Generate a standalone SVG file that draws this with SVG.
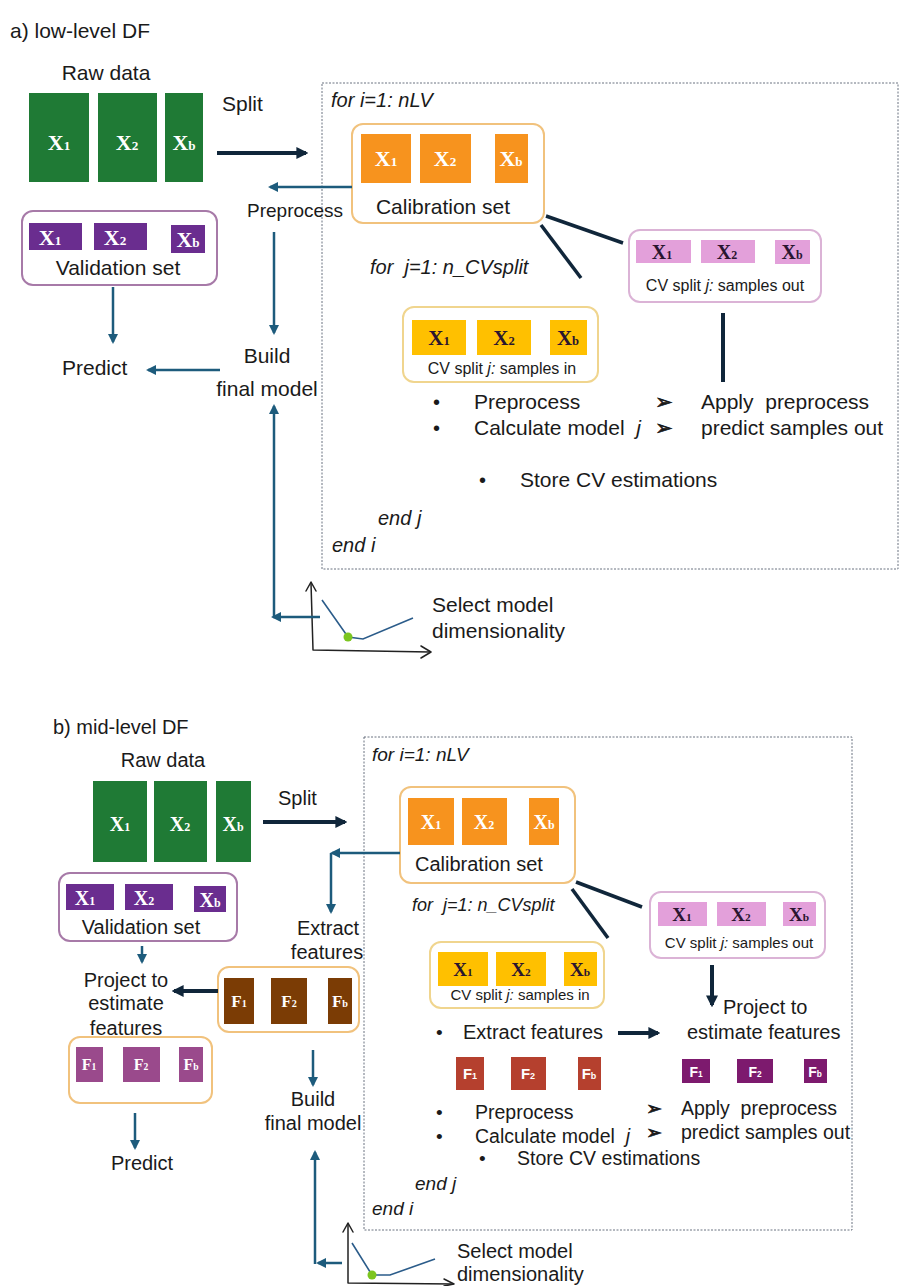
<svg xmlns="http://www.w3.org/2000/svg" width="901" height="1286" viewBox="0 0 901 1286">
<style>
.s{font-family:"Liberation Sans",Arial,sans-serif;fill:#1a1a1a}
.i{font-style:italic}
.m{text-anchor:middle}
.x{font-family:"Liberation Serif","Times New Roman",serif;font-weight:bold;text-anchor:middle}
.fs{font-family:"Liberation Sans",Arial,sans-serif;font-weight:bold;text-anchor:middle;fill:#fff}
.w{fill:#fff}
.d{fill:#2a1530}
.sub{font-size:0.6em}
.ar{font-family:"DejaVu Sans",sans-serif;fill:#1a1a1a;stroke:#1a1a1a;stroke-width:0.7}
.blue{stroke:#1d5b7c;stroke-width:2.5;fill:none}
.navy{stroke:#10263a;stroke-width:4;fill:none}
.thin{stroke:#10263a;stroke-width:3.5;fill:none}
.loop{fill:none;stroke:#6a7380;stroke-width:1;stroke-dasharray:2 1.5}
.calb{fill:#fff;stroke:#f1c27d;stroke-width:2}
.valb{fill:#fff;stroke:#a77aa8;stroke-width:2}
.outb{fill:#fff;stroke:#dbb3d6;stroke-width:2}
.inb{fill:#fff;stroke:#f0d58e;stroke-width:2}
.g{fill:#1f7a35}
.o{fill:#f7931e}
.p{fill:#6a2d8f}
.pk{fill:#e3a0da}
.y{fill:#ffc000}
.br{fill:#7b3c05}
.pf{fill:#9a4a8c}
.rf{fill:#b5402e}
.vf{fill:#7d1a6e}
.axis{fill:none;stroke:#222;stroke-width:1.5;stroke-linejoin:round;stroke-linecap:round}
.curve{fill:none;stroke:#2b5c8a;stroke-width:1.6}
.dot{fill:#7cc520}
</style>
<defs>
<marker id="hb" viewBox="0 0 10 10" refX="8" refY="5" markerWidth="4" markerHeight="4" orient="auto"><path d="M0,0 L10,5 L0,10 z" fill="#1d5b7c"/></marker>
<marker id="hn" viewBox="0 0 10 10" refX="8" refY="5" markerWidth="3" markerHeight="3" orient="auto"><path d="M0,0 L10,5 L0,10 z" fill="#10263a"/></marker>
</defs>

<!-- ============ PART A ============ -->
<g id="a-title"><text class="s" x="10" y="38" font-size="21">a) low-level DF</text></g>

<g id="a-loop">
<rect class="loop" x="322" y="83" width="576" height="486"/>
<text class="s i" x="331" y="107" font-size="20">for i=1: nLV</text>
<text class="s i" x="378" y="525" font-size="20">end j</text>
<text class="s i" x="332" y="552" font-size="20">end i</text>
</g>

<g id="a-raw">
<text class="s m" x="106" y="80" font-size="21">Raw data</text>
<rect class="g" x="29" y="93" width="60" height="89"/>
<rect class="g" x="98" y="93" width="59" height="89"/>
<rect class="g" x="165" y="93" width="38" height="89"/>
<text class="x w" x="59" y="150" font-size="22">X<tspan class="sub">1</tspan></text>
<text class="x w" x="127" y="150" font-size="22">X<tspan class="sub">2</tspan></text>
<text class="x w" x="184" y="150" font-size="22">X<tspan class="sub">b</tspan></text>
</g>

<g id="a-split-label"><text class="s" x="222" y="111" font-size="21">Split</text></g>

<g id="a-calibration">
<rect class="calb" x="352" y="124" width="192" height="99" rx="11"/>
<rect class="o" x="361" y="134" width="50" height="49"/>
<rect class="o" x="420" y="134" width="51" height="49"/>
<rect class="o" x="495" y="134" width="33" height="49"/>
<text class="x w" x="386" y="166" font-size="22">X<tspan class="sub">1</tspan></text>
<text class="x w" x="445" y="166" font-size="22">X<tspan class="sub">2</tspan></text>
<text class="x w" x="511" y="166" font-size="22">X<tspan class="sub">b</tspan></text>
<text class="s m" x="443" y="214" font-size="21">Calibration set</text>
</g>

<g id="a-preprocess"><text class="s" x="247" y="217" font-size="19">Preprocess</text></g>

<g id="a-validation">
<rect class="valb" x="22" y="211" width="195" height="74" rx="11"/>
<rect class="p" x="29" y="223" width="53" height="27"/>
<rect class="p" x="94" y="223" width="53" height="27"/>
<rect class="p" x="171" y="225" width="34" height="28"/>
<text class="x w" x="50" y="245" font-size="22">X<tspan class="sub">1</tspan></text>
<text class="x w" x="115" y="245" font-size="22">X<tspan class="sub">2</tspan></text>
<text class="x w" x="188" y="247" font-size="22">X<tspan class="sub">b</tspan></text>
<text class="s m" x="118" y="275" font-size="21">Validation set</text>
</g>

<g id="a-predict"><text class="s" x="62" y="375" font-size="21">Predict</text></g>
<g id="a-build">
<text class="s m" x="267" y="363" font-size="21">Build</text>
<text class="s m" x="267" y="396" font-size="21">final model</text>
</g>

<g id="a-cv-out">
<rect class="outb" x="629" y="230" width="192" height="72" rx="11"/>
<rect class="pk" x="636" y="240" width="55" height="23"/>
<rect class="pk" x="701" y="240" width="54" height="23"/>
<rect class="pk" x="775" y="240" width="35" height="24"/>
<text class="x d" x="662" y="259" font-size="20">X<tspan class="sub">1</tspan></text>
<text class="x d" x="727" y="259" font-size="20">X<tspan class="sub">2</tspan></text>
<text class="x d" x="792" y="259" font-size="20">X<tspan class="sub">b</tspan></text>
<text class="s m" x="725" y="291" font-size="16">CV split <tspan class="i">j:</tspan> samples out</text>
</g>

<g id="a-cv-loop-label"><text class="s i" x="370" y="274" font-size="20">for&#160; j=1: n_CVsplit</text></g>

<g id="a-cv-in">
<rect class="inb" x="403" y="307" width="195" height="75" rx="11"/>
<rect class="y" x="412" y="320" width="54" height="35"/>
<rect class="y" x="477" y="320" width="54" height="35"/>
<rect class="y" x="550" y="320" width="37" height="35"/>
<text class="x d" x="439" y="345" font-size="21">X<tspan class="sub">1</tspan></text>
<text class="x d" x="504" y="345" font-size="21">X<tspan class="sub">2</tspan></text>
<text class="x d" x="568" y="345" font-size="21">X<tspan class="sub">b</tspan></text>
<text class="s m" x="502" y="374" font-size="16">CV split <tspan class="i">j:</tspan> samples in</text>
</g>

<g id="a-steps">
<text class="s" x="433" y="409" font-size="20">•</text>
<text class="s" x="474" y="409" font-size="21">Preprocess</text>
<text class="s" x="433" y="435" font-size="20">•</text>
<text class="s" x="474" y="435" font-size="21">Calculate model&#160; <tspan class="i">j</tspan></text>
<text class="ar" x="655" y="409" font-size="21">➢</text>
<text class="s" x="701" y="409" font-size="21">Apply&#160; preprocess</text>
<text class="ar" x="655" y="435" font-size="21">➢</text>
<text class="s" x="701" y="435" font-size="21">predict samples out</text>
<text class="s" x="479" y="487" font-size="20">•</text>
<text class="s" x="520" y="487" font-size="21">Store CV estimations</text>
</g>

<g id="a-select">
<path class="axis" d="M311,583 L313,650 L430,652"/>
<path class="axis" d="M306,591 L311,582 L316,591"/>
<path class="axis" d="M421,646 L431,652 L421,658"/>
<path class="curve" d="M322,600 L348,637 L363,639 L413,618"/>
<circle class="dot" cx="348" cy="637" r="4.5"/>
<text class="s" x="432" y="612" font-size="21">Select model</text>
<text class="s" x="432" y="638" font-size="21">dimensionality</text>
</g>

<g id="a-connectors">
<line class="navy" x1="217" y1="153" x2="306" y2="153" marker-end="url(#hn)"/>
<line class="blue" x1="352" y1="187" x2="270" y2="187" marker-end="url(#hb)"/>
<line class="blue" x1="274" y1="232" x2="274" y2="333" marker-end="url(#hb)"/>
<line class="blue" x1="113" y1="287" x2="113" y2="342" marker-end="url(#hb)"/>
<line class="blue" x1="220" y1="370" x2="148" y2="370" marker-end="url(#hb)"/>
<line class="blue" x1="320" y1="617" x2="273" y2="617" marker-end="url(#hb)"/>
<line class="blue" x1="274" y1="618" x2="274" y2="406" marker-end="url(#hb)"/>
<line class="thin" x1="546" y1="216" x2="623" y2="243"/>
<line class="thin" x1="541" y1="225" x2="581" y2="278"/>
<line class="navy" x1="723" y1="313" x2="723" y2="382"/>
</g>

<!-- ============ PART B ============ -->
<g id="b-title"><text class="s" x="53" y="734" font-size="20">b) mid-level DF</text></g>

<g id="b-loop">
<rect class="loop" x="364" y="737" width="488" height="493"/>
<text class="s i" x="372" y="761" font-size="19">for i=1: nLV</text>
<text class="s i" x="415" y="1190" font-size="19">end j</text>
<text class="s i" x="372" y="1215" font-size="19">end i</text>
</g>

<g id="b-raw">
<text class="s m" x="163" y="767" font-size="20">Raw data</text>
<rect class="g" x="93" y="781" width="54" height="81"/>
<rect class="g" x="154" y="781" width="53" height="81"/>
<rect class="g" x="216" y="781" width="35" height="81"/>
<text class="x w" x="120" y="831" font-size="20">X<tspan class="sub">1</tspan></text>
<text class="x w" x="180" y="831" font-size="20">X<tspan class="sub">2</tspan></text>
<text class="x w" x="233" y="831" font-size="20">X<tspan class="sub">b</tspan></text>
</g>

<g id="b-split-label"><text class="s" x="278" y="805" font-size="20">Split</text></g>

<g id="b-calibration">
<rect class="calb" x="400" y="787" width="175" height="96" rx="11"/>
<rect class="o" x="408" y="798" width="46" height="47"/>
<rect class="o" x="462" y="798" width="45" height="47"/>
<rect class="o" x="529" y="798" width="30" height="47"/>
<text class="x w" x="431" y="829" font-size="20">X<tspan class="sub">1</tspan></text>
<text class="x w" x="484" y="829" font-size="20">X<tspan class="sub">2</tspan></text>
<text class="x w" x="544" y="829" font-size="20">X<tspan class="sub">b</tspan></text>
<text class="s" x="415" y="871" font-size="20">Calibration set</text>
</g>

<g id="b-extract">
<text class="s m" x="328" y="935" font-size="20">Extract</text>
<text class="s m" x="327" y="959" font-size="20">features</text>
</g>

<g id="b-validation">
<rect class="valb" x="59" y="873" width="178" height="68" rx="11"/>
<rect class="p" x="66" y="884" width="48" height="26"/>
<rect class="p" x="125" y="884" width="48" height="26"/>
<rect class="p" x="194" y="886" width="32" height="26"/>
<text class="x w" x="85" y="905" font-size="20">X<tspan class="sub">1</tspan></text>
<text class="x w" x="144" y="905" font-size="20">X<tspan class="sub">2</tspan></text>
<text class="x w" x="210" y="907" font-size="20">X<tspan class="sub">b</tspan></text>
<text class="s m" x="141" y="934" font-size="20">Validation set</text>
</g>

<g id="b-project-left">
<text class="s m" x="126" y="987" font-size="20">Project to</text>
<text class="s m" x="126" y="1010" font-size="20">estimate</text>
<text class="s m" x="126" y="1035" font-size="20">features</text>
</g>

<g id="b-features-cal">
<rect class="calb" x="218" y="967" width="141" height="65" rx="11"/>
<rect class="br" x="224" y="978" width="30" height="46"/>
<rect class="br" x="271" y="978" width="36" height="46"/>
<rect class="br" x="328" y="978" width="24" height="46"/>
<text class="x w" x="239" y="1007" font-size="17">F<tspan class="sub">1</tspan></text>
<text class="x w" x="289" y="1007" font-size="17">F<tspan class="sub">2</tspan></text>
<text class="x w" x="340" y="1007" font-size="17">F<tspan class="sub">b</tspan></text>
</g>

<g id="b-features-val">
<rect class="calb" x="69" y="1037" width="143" height="66" rx="11"/>
<rect class="pf" x="76" y="1047" width="27" height="35"/>
<rect class="pf" x="123" y="1047" width="37" height="35"/>
<rect class="pf" x="179" y="1047" width="24" height="35"/>
<text class="x w" x="89" y="1070" font-size="16">F<tspan class="sub">1</tspan></text>
<text class="x w" x="141" y="1070" font-size="16">F<tspan class="sub">2</tspan></text>
<text class="x w" x="191" y="1070" font-size="16">F<tspan class="sub">b</tspan></text>
</g>

<g id="b-predict"><text class="s m" x="142" y="1170" font-size="20">Predict</text></g>
<g id="b-build">
<text class="s m" x="313" y="1106" font-size="20">Build</text>
<text class="s m" x="313" y="1130" font-size="20">final model</text>
</g>

<g id="b-cv-loop-label"><text class="s i" x="412" y="911" font-size="18">for&#160; j=1: n_CVsplit</text></g>

<g id="b-cv-out">
<rect class="outb" x="650" y="892" width="175" height="66" rx="11"/>
<rect class="pk" x="658" y="902" width="49" height="24"/>
<rect class="pk" x="717" y="902" width="49" height="24"/>
<rect class="pk" x="783" y="902" width="33" height="24"/>
<text class="x d" x="682" y="921" font-size="19">X<tspan class="sub">1</tspan></text>
<text class="x d" x="741" y="921" font-size="19">X<tspan class="sub">2</tspan></text>
<text class="x d" x="799" y="921" font-size="19">X<tspan class="sub">b</tspan></text>
<text class="s m" x="739" y="948" font-size="15">CV split <tspan class="i">j:</tspan> samples out</text>
</g>

<g id="b-cv-in">
<rect class="inb" x="430" y="942" width="174" height="66" rx="11"/>
<rect class="y" x="438" y="952" width="50" height="34"/>
<rect class="y" x="496" y="952" width="50" height="34"/>
<rect class="y" x="564" y="952" width="33" height="34"/>
<text class="x d" x="463" y="976" font-size="19">X<tspan class="sub">1</tspan></text>
<text class="x d" x="521" y="976" font-size="19">X<tspan class="sub">2</tspan></text>
<text class="x d" x="580" y="976" font-size="19">X<tspan class="sub">b</tspan></text>
<text class="s m" x="520" y="1000" font-size="15">CV split <tspan class="i">j:</tspan> samples in</text>
</g>

<g id="b-project-right">
<text class="s" x="723" y="1014" font-size="20">Project to</text>
<text class="s" x="687" y="1039" font-size="20">estimate features</text>
</g>

<g id="b-extract-step">
<text class="s" x="436" y="1039" font-size="19">•</text>
<text class="s" x="463" y="1039" font-size="20">Extract features</text>
</g>

<g id="b-features-cv-in">
<rect class="rf" x="456" y="1057" width="28" height="33"/>
<rect class="rf" x="511" y="1057" width="35" height="33"/>
<rect class="rf" x="578" y="1057" width="23" height="33"/>
<text class="fs" x="470" y="1079" font-size="15">F<tspan class="sub">1</tspan></text>
<text class="fs" x="528" y="1079" font-size="15">F<tspan class="sub">2</tspan></text>
<text class="fs" x="589" y="1079" font-size="15">F<tspan class="sub">b</tspan></text>
</g>

<g id="b-features-cv-out">
<rect class="vf" x="682" y="1059" width="28" height="24"/>
<rect class="vf" x="737" y="1059" width="36" height="24"/>
<rect class="vf" x="804" y="1059" width="23" height="24"/>
<text class="fs" x="696" y="1077" font-size="14">F<tspan class="sub">1</tspan></text>
<text class="fs" x="755" y="1077" font-size="14">F<tspan class="sub">2</tspan></text>
<text class="fs" x="815" y="1077" font-size="14">F<tspan class="sub">b</tspan></text>
</g>

<g id="b-steps">
<text class="s" x="436" y="1119" font-size="19">•</text>
<text class="s" x="475" y="1119" font-size="19.5">Preprocess</text>
<text class="s" x="436" y="1143" font-size="19">•</text>
<text class="s" x="475" y="1143" font-size="19.5">Calculate model&#160; <tspan class="i">j</tspan></text>
<text class="ar" x="646" y="1115" font-size="19">➢</text>
<text class="s" x="681" y="1115" font-size="19.5">Apply&#160; preprocess</text>
<text class="ar" x="646" y="1139" font-size="19">➢</text>
<text class="s" x="681" y="1139" font-size="19.5">predict samples out</text>
<text class="s" x="479" y="1165" font-size="19">•</text>
<text class="s" x="517" y="1165" font-size="19.5">Store CV estimations</text>
</g>

<g id="b-select">
<path class="axis" d="M348,1224 L348,1283 L453,1284"/>
<path class="axis" d="M343,1232 L348,1223 L353,1232"/>
<path class="axis" d="M444,1279 L454,1284 L444,1286"/>
<path class="curve" d="M352,1243 L372,1275 L390,1275 L435,1259"/>
<circle class="dot" cx="372" cy="1275" r="4.5"/>
<text class="s" x="457" y="1258" font-size="20">Select model</text>
<text class="s" x="457" y="1281" font-size="20">dimensionality</text>
</g>

<g id="b-connectors">
<line class="navy" x1="263" y1="822" x2="345" y2="822" marker-end="url(#hn)"/>
<line class="blue" x1="400" y1="853" x2="332" y2="853" marker-end="url(#hb)"/>
<line class="blue" x1="331" y1="853" x2="331" y2="912" marker-end="url(#hb)"/>
<line class="blue" x1="142" y1="946" x2="142" y2="962" marker-end="url(#hb)"/>
<line class="navy" x1="218" y1="991" x2="174" y2="991" marker-end="url(#hn)"/>
<line class="blue" x1="135" y1="1113" x2="135" y2="1148" marker-end="url(#hb)"/>
<line class="blue" x1="313" y1="1050" x2="313" y2="1085" marker-end="url(#hb)"/>
<line class="blue" x1="342" y1="1263" x2="318" y2="1263" marker-end="url(#hb)"/>
<line class="blue" x1="315" y1="1264" x2="315" y2="1152" marker-end="url(#hb)"/>
<line class="thin" x1="576" y1="882" x2="642" y2="907"/>
<line class="thin" x1="572" y1="889" x2="608" y2="938"/>
<line class="navy" x1="712" y1="965" x2="712" y2="1005" marker-end="url(#hn)"/>
<line class="navy" x1="618" y1="1033" x2="658" y2="1033" marker-end="url(#hn)"/>
</g>
</svg>
